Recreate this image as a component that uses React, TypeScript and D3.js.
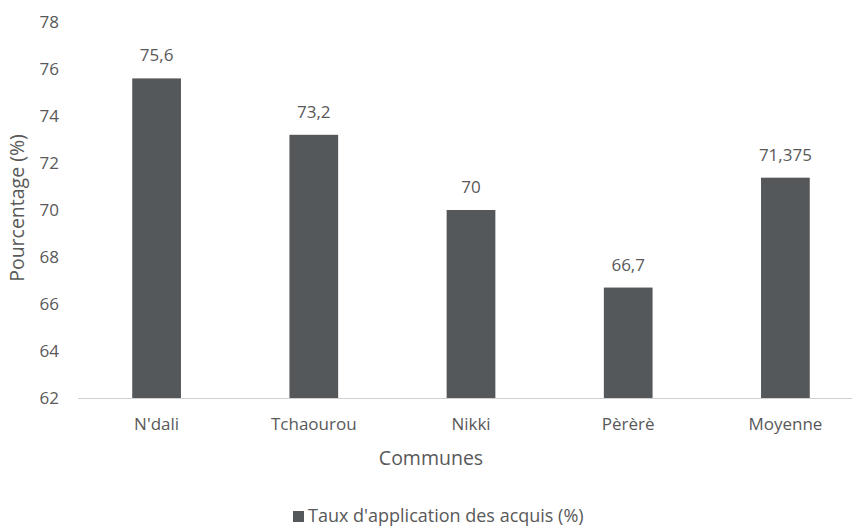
import React from 'react';
import * as d3 from 'd3';

// Chart data
const communes = ["N'dali", 'Tchaourou', 'Nikki', 'Pèrèrè', 'Moyenne'];
const taux = [75.6, 73.2, 70, 66.7, 71.375];
const valueLabels = ['75,6', '73,2', '70', '66,7', '71,375'];
const yTicks = [62, 64, 66, 68, 70, 72, 74, 76, 78];
const seriesName = "Taux d'application des acquis (%)";

const W = 852;
const H = 528;
const plot = { left: 78, right: 864, top: 22, bottom: 398 };
const textColor = '#595959';
const barColor = '#55585a';
const font = '"Open Sans", "DejaVu Sans", sans-serif';

const App = () => {
  const x = d3
    .scaleBand<string>()
    .domain(communes)
    .range([plot.left, plot.right])
    .paddingInner(0.69)
    .paddingOuter(0.345);
  const y = d3.scaleLinear().domain([62, 78]).range([plot.bottom, plot.top]);

  return (
    <svg
      width={W}
      height={H}
      style={{ position: 'absolute', left: 0, top: 0, background: '#fff' }}
      fontFamily={font}
    >
      {/* y tick labels */}
      {yTicks.map((t) => (
        <text
          key={t}
          x={59}
          y={y(t)}
          dy="0.36em"
          textAnchor="end"
          fontSize={17}
          fill={textColor}
        >
          {t}
        </text>
      ))}

      {/* bars */}
      {communes.map((c, i) => (
        <rect
          key={c}
          x={x(c)}
          y={y(taux[i])}
          width={x.bandwidth()}
          height={y(62) - y(taux[i])}
          fill={barColor}
        />
      ))}

      {/* value labels */}
      {communes.map((c, i) => (
        <text
          key={c}
          x={(x(c) ?? 0) + x.bandwidth() / 2}
          y={y(taux[i]) - 17}
          textAnchor="middle"
          fontSize={17}
          fill={textColor}
        >
          {valueLabels[i]}
        </text>
      ))}

      {/* x axis line */}
      <line x1={plot.left} x2={W} y1={y(62) + 0.5} y2={y(62) + 0.5} stroke="#d0d0d0" strokeWidth={1} />

      {/* category labels */}
      {communes.map((c) => (
        <text
          key={c}
          x={(x(c) ?? 0) + x.bandwidth() / 2}
          y={430}
          textAnchor="middle"
          fontSize={17}
          fill={textColor}
        >
          {c}
        </text>
      ))}

      {/* axis titles */}
      <text x={431} y={465} textAnchor="middle" fontSize={19.5} fill={textColor}>
        Communes
      </text>
      <text
        transform={`translate(24, 208) rotate(-90)`}
        textAnchor="middle"
        fontSize={19.5}
        fill={textColor}
      >
        Pourcentage (%)
      </text>

      {/* legend */}
      <rect x={293} y={511} width={11} height={11} fill={barColor} />
      <text x={308} y={522} fontSize={18} fill={textColor}>
        {seriesName}
      </text>
    </svg>
  );
};

export default App;
